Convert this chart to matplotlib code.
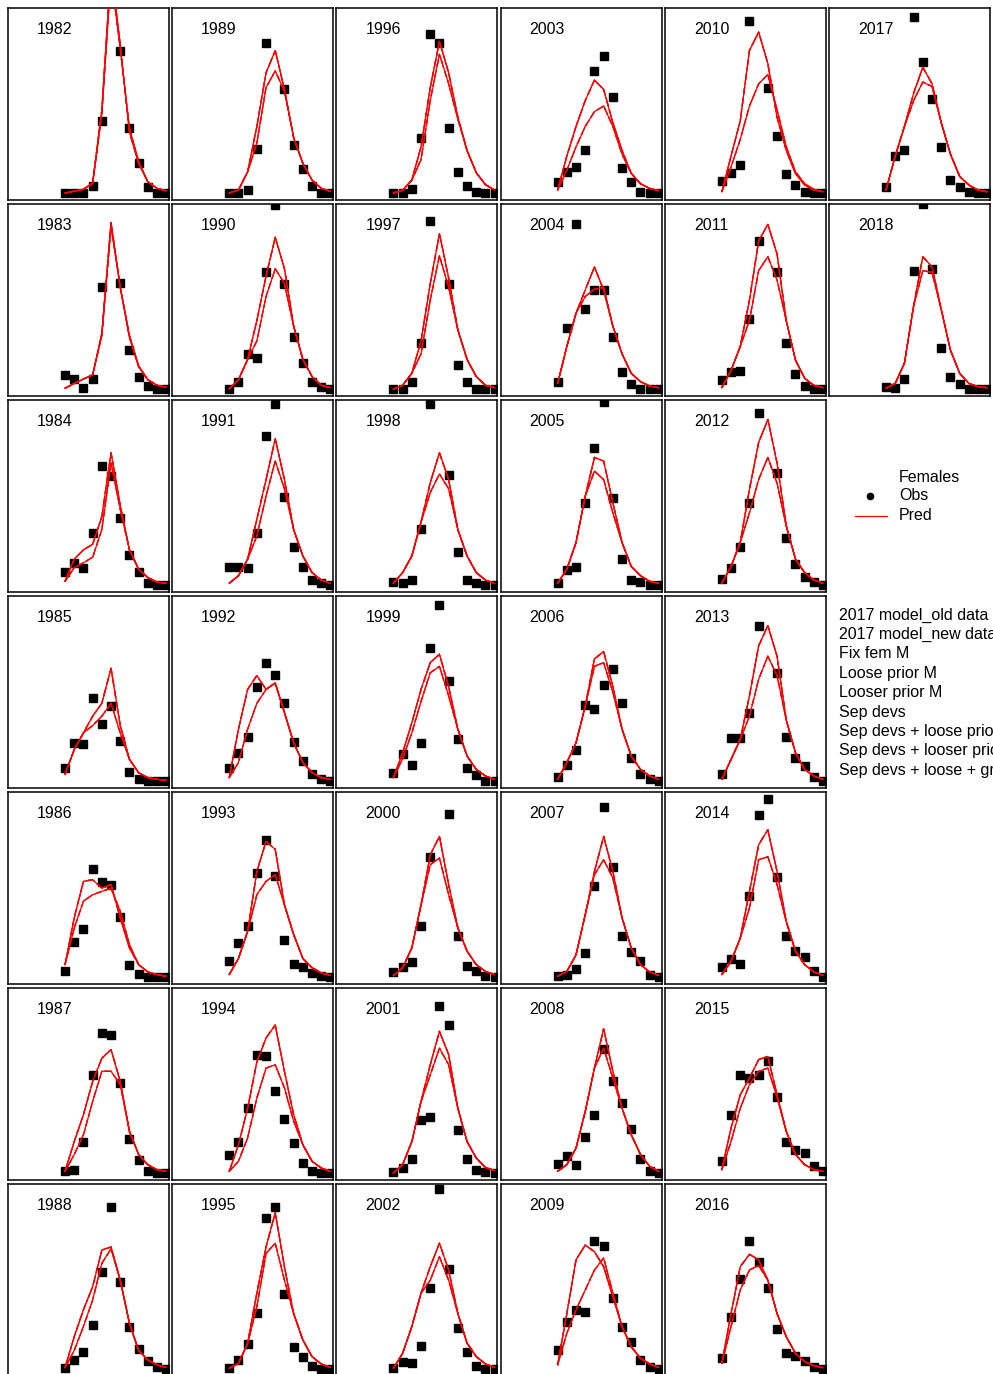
import numpy as np
import matplotlib
matplotlib.use("Agg")
import matplotlib.pyplot as plt
from matplotlib.lines import Line2D

plt.rcParams['font.family'] = ['Liberation Sans', 'DejaVu Sans']

# size bin midpoints
sizes = [27.5, 32.5, 37.5, 42.5, 47.5, 52.5, 57.5, 62.5, 67.5, 72.5, 77.5, 82.5]
years = list(range(1982, 2019))

models = ["2017 model_old data", "2017 model_new data", "Fix fem M",
          "Loose prior M", "Looser prior M", "Sep devs",
          "Sep devs + loose prior M", "Sep devs + looser prior M",
          "Sep devs + loose + growth"]
# which predicted curve each model follows (0 = upper set, 1 = lower set)
model_group = [0, 0, 0, 0, 0, 1, 1, 1, 1]

# observed size composition (females), one row per year
obs = [
    [0.0, 0.0, 0.0, 0.04, 0.39, 1.2, 0.77, 0.35, 0.16, 0.034, 0.0, 0.0],          # 1982
    [0.076, 0.056, 0.007, 0.056, 0.55, 1.1, 0.575, 0.21, 0.067, 0.018, 0.0, 0.0],  # 1983
    [0.072, 0.12, 0.094, 0.283, 0.645, 0.59, 0.364, 0.164, 0.072, 0.009, 0.0, 0.0],
    [0.072, 0.207, 0.2, 0.45, 0.31, 0.405, 0.216, 0.05, 0.013, 0.0, 0.0, 0.0],
    [0.034, 0.19, 0.26, 0.585, 0.513, 0.495, 0.326, 0.067, 0.018, 0.0, 0.0, 0.0],
    [0.013, 0.018, 0.17, 0.53, 0.757, 0.748, 0.488, 0.186, 0.072, 0.013, 0.0, 0.0],
    [0.007, 0.049, 0.09, 0.238, 0.526, 0.877, 0.472, 0.225, 0.106, 0.043, 0.013, 0.0],
    [0.0, 0.0, 0.016, 0.24, 0.81, 1.1, 0.56, 0.26, 0.13, 0.04, 0.0, 0.0],          # 1989
    [0.0, 0.04, 0.19, 0.17, 0.63, 0.995, 0.57, 0.28, 0.14, 0.04, 0.013, 0.0],
    [0.1, 0.1, 0.094, 0.283, 0.805, 0.98, 0.477, 0.207, 0.1, 0.029, 0.009, 0.0],
    [0.072, 0.153, 0.24, 0.51, 0.64, 0.575, 0.423, 0.21, 0.11, 0.04, 0.013, 0.0],
    [0.088, 0.186, 0.277, 0.562, 0.742, 0.544, 0.2, 0.072, 0.054, 0.022, 0.004, 0.0],
    [0.1, 0.17, 0.35, 0.64, 0.63, 0.445, 0.294, 0.162, 0.054, 0.013, 0.0, 0.0],
    [0.004, 0.049, 0.133, 0.305, 0.818, 0.874, 0.405, 0.12, 0.067, 0.018, 0.0, 0.0],
    [0.0, 0.0, 0.02, 0.30, 0.86, 0.81, 0.35, 0.115, 0.04, 0.005, 0.0, 0.0],        # 1996
    [0.0, 0.0, 0.036, 0.25, 0.91, 1.1, 0.57, 0.13, 0.04, 0.0, 0.0, 0.0],
    [0.018, 0.013, 0.029, 0.305, 0.977, 1.1, 0.596, 0.18, 0.029, 0.009, 0.0, 0.0],
    [0.045, 0.148, 0.088, 0.207, 0.72, 0.95, 0.54, 0.225, 0.072, 0.03, 0.0, 0.0],
    [0.025, 0.054, 0.081, 0.274, 0.65, 1.1, 0.88, 0.223, 0.061, 0.034, 0.004, 0.0],
    [0.005, 0.025, 0.077, 0.285, 0.303, 0.903, 0.8, 0.23, 0.077, 0.018, 0.005, 0.0],
    [0.007, 0.04, 0.034, 0.126, 0.44, 0.973, 0.54, 0.223, 0.094, 0.018, 0.0, 0.0],
    [0.06, 0.115, 0.14, 0.23, 0.66, 0.74, 0.52, 0.135, 0.06, 0.005, 0.0, 0.0],      # 2003
    [0.04, 0.33, 0.89, 0.43, 0.535, 0.535, 0.28, 0.09, 0.027, 0.0, 0.0, 0.0],
    [0.013, 0.08, 0.097, 0.445, 0.742, 0.99, 0.472, 0.142, 0.029, 0.018, 0.0, 0.0],
    [0.023, 0.088, 0.166, 0.41, 0.39, 0.52, 0.605, 0.423, 0.126, 0.04, 0.009, 0.0],
    [0.007, 0.013, 0.045, 0.13, 0.494, 0.92, 0.595, 0.223, 0.137, 0.088, 0.013, 0.0],
    [0.05, 0.09, 0.045, 0.193, 0.315, 0.67, 0.495, 0.38, 0.24, 0.076, 0.009, 0.0],
    [0.103, 0.256, 0.32, 0.31, 0.694, 0.667, 0.382, 0.229, 0.144, 0.049, 0.013, 0.0],
    [0.065, 0.11, 0.15, 0.93, 1.1, 0.57, 0.31, 0.105, 0.045, 0.006, 0.0, 0.0],      # 2010
    [0.05, 0.09, 0.097, 0.38, 0.8, 1.1, 0.63, 0.25, 0.08, 0.016, 0.0, 0.0],
    [0.034, 0.09, 0.207, 0.445, 0.928, 1.1, 0.607, 0.256, 0.112, 0.045, 0.018, 0.0],
    [0.04, 0.23, 0.23, 0.37, 0.84, 1.1, 0.585, 0.24, 0.126, 0.08, 0.023, 0.0],
    [0.054, 0.1, 0.072, 0.436, 0.877, 0.964, 0.54, 0.223, 0.139, 0.11, 0.03, 0.0],
    [0.067, 0.315, 0.528, 0.513, 0.528, 0.604, 0.41, 0.166, 0.126, 0.108, 0.036, 0.009],
    [0.061, 0.283, 0.486, 0.694, 0.578, 0.44, 0.218, 0.088, 0.07, 0.045, 0.013, 0.0],
    [0.03, 0.2, 0.23, 0.95, 0.71, 0.51, 0.25, 0.07, 0.03, 0.007, 0.0, 0.0],         # 2017
    [0.013, 0.007, 0.056, 0.64, 1.0, 0.65, 0.22, 0.067, 0.027, 0.0, 0.0, 0.0],
]

# predicted, upper set of runs
pred_hi = [
    [0.0, 0.01, 0.02, 0.055, 0.45, 1.22, 0.80, 0.33, 0.16, 0.06, 0.025, 0.012],
    [0.004, 0.03, 0.054, 0.076, 0.30, 0.90, 0.55, 0.28, 0.12, 0.05, 0.02, 0.01],
    [0.02, 0.14, 0.19, 0.22, 0.37, 0.715, 0.43, 0.19, 0.085, 0.04, 0.016, 0.009],
    [0.036, 0.17, 0.26, 0.35, 0.42, 0.61, 0.30, 0.117, 0.045, 0.018, 0.009, 0.004],
    [0.067, 0.32, 0.517, 0.526, 0.48, 0.50, 0.32, 0.157, 0.067, 0.027, 0.013, 0.004],
    [0.009, 0.17, 0.315, 0.495, 0.62, 0.667, 0.495, 0.225, 0.1, 0.045, 0.018, 0.009],
    [0.007, 0.175, 0.32, 0.445, 0.643, 0.66, 0.48, 0.247, 0.1, 0.049, 0.022, 0.009],
    [0.0, 0.016, 0.115, 0.36, 0.65, 0.77, 0.56, 0.30, 0.16, 0.07, 0.025, 0.01],
    [0.0, 0.05, 0.16, 0.37, 0.61, 0.82, 0.65, 0.34, 0.16, 0.067, 0.02, 0.007],
    [0.01, 0.05, 0.14, 0.355, 0.57, 0.79, 0.57, 0.30, 0.157, 0.067, 0.027, 0.009],
    [0.018, 0.28, 0.495, 0.57, 0.495, 0.53, 0.37, 0.207, 0.1, 0.045, 0.018, 0.009],
    [0.013, 0.1, 0.247, 0.57, 0.733, 0.69, 0.39, 0.23, 0.1, 0.05, 0.022, 0.009],
    [0.009, 0.153, 0.35, 0.6, 0.73, 0.8, 0.55, 0.315, 0.153, 0.063, 0.027, 0.009],
    [0.004, 0.03, 0.139, 0.41, 0.66, 0.845, 0.553, 0.3, 0.157, 0.067, 0.027, 0.009],
    [0.0, 0.015, 0.07, 0.25, 0.57, 0.82, 0.65, 0.41, 0.23, 0.11, 0.045, 0.016],
    [0.0, 0.02, 0.085, 0.26, 0.57, 0.84, 0.60, 0.32, 0.16, 0.067, 0.02, 0.007],
    [0.01, 0.067, 0.157, 0.34, 0.553, 0.715, 0.57, 0.30, 0.157, 0.067, 0.027, 0.009],
    [0.018, 0.153, 0.315, 0.495, 0.64, 0.685, 0.51, 0.28, 0.135, 0.063, 0.027, 0.009],
    [0.007, 0.05, 0.157, 0.39, 0.66, 0.76, 0.50, 0.265, 0.14, 0.067, 0.03, 0.013],
    [0.0, 0.045, 0.17, 0.387, 0.585, 0.766, 0.64, 0.35, 0.17, 0.081, 0.03, 0.013],
    [0.004, 0.085, 0.23, 0.41, 0.553, 0.68, 0.535, 0.3, 0.14, 0.067, 0.027, 0.009],
    [0.016, 0.2, 0.36, 0.5, 0.61, 0.56, 0.38, 0.23, 0.106, 0.05, 0.025, 0.013],
    [0.03, 0.23, 0.41, 0.535, 0.66, 0.535, 0.34, 0.19, 0.085, 0.04, 0.016, 0.007],
    [0.01, 0.085, 0.23, 0.48, 0.69, 0.67, 0.445, 0.23, 0.1, 0.05, 0.02, 0.009],
    [0.009, 0.1, 0.207, 0.405, 0.66, 0.70, 0.51, 0.28, 0.135, 0.063, 0.027, 0.009],
    [0.004, 0.03, 0.12, 0.337, 0.57, 0.76, 0.571, 0.32, 0.157, 0.067, 0.027, 0.009],
    [0.009, 0.045, 0.135, 0.333, 0.567, 0.78, 0.55, 0.35, 0.207, 0.1, 0.036, 0.009],
    [0.022, 0.3, 0.59, 0.67, 0.634, 0.553, 0.39, 0.229, 0.12, 0.058, 0.027, 0.009],
    [0.007, 0.2, 0.39, 0.77, 0.87, 0.70, 0.41, 0.23, 0.106, 0.043, 0.016, 0.007],
    [0.007, 0.1, 0.23, 0.48, 0.8, 0.89, 0.73, 0.37, 0.157, 0.058, 0.02, 0.007],
    [0.01, 0.1, 0.23, 0.517, 0.77, 0.895, 0.66, 0.32, 0.14, 0.067, 0.027, 0.009],
    [0.009, 0.117, 0.225, 0.46, 0.73, 0.84, 0.675, 0.33, 0.153, 0.063, 0.027, 0.009],
    [0.013, 0.085, 0.21, 0.463, 0.715, 0.796, 0.57, 0.3, 0.14, 0.067, 0.027, 0.009],
    [0.018, 0.243, 0.423, 0.513, 0.613, 0.63, 0.423, 0.225, 0.1, 0.045, 0.018, 0.009],
    [0.03, 0.3, 0.553, 0.62, 0.59, 0.48, 0.3, 0.175, 0.085, 0.04, 0.018, 0.007],
    [0.016, 0.2, 0.36, 0.54, 0.68, 0.59, 0.38, 0.21, 0.09, 0.043, 0.016, 0.007],
    [0.004, 0.03, 0.14, 0.45, 0.715, 0.66, 0.43, 0.21, 0.085, 0.03, 0.013, 0.007],
]

# predicted, lower set of runs
pred_lo = [
    [0.0, 0.01, 0.02, 0.05, 0.43, 1.18, 0.78, 0.35, 0.17, 0.06, 0.025, 0.012],
    [0.004, 0.03, 0.054, 0.076, 0.29, 0.88, 0.55, 0.29, 0.125, 0.05, 0.02, 0.01],
    [0.02, 0.094, 0.12, 0.15, 0.30, 0.66, 0.41, 0.19, 0.085, 0.04, 0.016, 0.009],
    [0.036, 0.17, 0.26, 0.30, 0.35, 0.42, 0.26, 0.117, 0.045, 0.018, 0.009, 0.004],
    [0.067, 0.265, 0.41, 0.445, 0.463, 0.48, 0.355, 0.175, 0.067, 0.027, 0.013, 0.004],
    [0.009, 0.1, 0.207, 0.387, 0.55, 0.55, 0.477, 0.225, 0.1, 0.045, 0.018, 0.009],
    [0.007, 0.1, 0.23, 0.373, 0.571, 0.65, 0.48, 0.247, 0.1, 0.049, 0.022, 0.009],
    [0.0, 0.016, 0.115, 0.27, 0.57, 0.66, 0.55, 0.30, 0.16, 0.07, 0.025, 0.01],
    [0.0, 0.05, 0.16, 0.26, 0.50, 0.65, 0.57, 0.34, 0.16, 0.067, 0.02, 0.007],
    [0.01, 0.05, 0.14, 0.265, 0.48, 0.67, 0.52, 0.30, 0.157, 0.067, 0.027, 0.009],
    [0.018, 0.1, 0.28, 0.42, 0.495, 0.53, 0.37, 0.207, 0.1, 0.045, 0.018, 0.009],
    [0.013, 0.1, 0.247, 0.445, 0.517, 0.553, 0.39, 0.23, 0.1, 0.05, 0.022, 0.009],
    [0.009, 0.063, 0.19, 0.405, 0.567, 0.585, 0.46, 0.28, 0.153, 0.063, 0.027, 0.009],
    [0.004, 0.03, 0.139, 0.337, 0.625, 0.68, 0.48, 0.3, 0.157, 0.067, 0.027, 0.009],
    [0.0, 0.015, 0.07, 0.18, 0.50, 0.75, 0.59, 0.40, 0.23, 0.11, 0.045, 0.016],
    [0.0, 0.02, 0.085, 0.19, 0.48, 0.72, 0.55, 0.32, 0.16, 0.067, 0.02, 0.007],
    [0.01, 0.067, 0.157, 0.34, 0.50, 0.60, 0.52, 0.30, 0.157, 0.067, 0.027, 0.009],
    [0.018, 0.12, 0.26, 0.43, 0.585, 0.62, 0.46, 0.28, 0.135, 0.063, 0.027, 0.009],
    [0.007, 0.05, 0.157, 0.39, 0.607, 0.643, 0.445, 0.265, 0.14, 0.067, 0.03, 0.013],
    [0.0, 0.045, 0.17, 0.387, 0.53, 0.675, 0.585, 0.35, 0.17, 0.081, 0.03, 0.013],
    [0.004, 0.085, 0.23, 0.41, 0.48, 0.607, 0.48, 0.3, 0.14, 0.067, 0.027, 0.009],
    [0.016, 0.124, 0.25, 0.36, 0.44, 0.47, 0.36, 0.21, 0.106, 0.05, 0.025, 0.013],
    [0.03, 0.23, 0.41, 0.5, 0.54, 0.55, 0.34, 0.19, 0.085, 0.04, 0.016, 0.007],
    [0.01, 0.085, 0.23, 0.48, 0.616, 0.57, 0.39, 0.23, 0.1, 0.05, 0.02, 0.009],
    [0.009, 0.1, 0.207, 0.405, 0.62, 0.64, 0.48, 0.28, 0.135, 0.063, 0.027, 0.009],
    [0.004, 0.03, 0.12, 0.337, 0.553, 0.634, 0.535, 0.32, 0.157, 0.067, 0.027, 0.009],
    [0.009, 0.045, 0.135, 0.333, 0.567, 0.675, 0.513, 0.35, 0.207, 0.1, 0.036, 0.009],
    [0.022, 0.193, 0.32, 0.427, 0.535, 0.6, 0.41, 0.229, 0.12, 0.058, 0.027, 0.009],
    [0.007, 0.14, 0.29, 0.47, 0.59, 0.64, 0.45, 0.25, 0.115, 0.05, 0.02, 0.007],
    [0.007, 0.1, 0.23, 0.37, 0.64, 0.715, 0.59, 0.37, 0.157, 0.058, 0.02, 0.007],
    [0.01, 0.1, 0.23, 0.39, 0.57, 0.69, 0.55, 0.32, 0.14, 0.067, 0.027, 0.009],
    [0.009, 0.117, 0.225, 0.35, 0.55, 0.675, 0.57, 0.33, 0.153, 0.063, 0.027, 0.009],
    [0.013, 0.085, 0.21, 0.373, 0.634, 0.65, 0.5, 0.3, 0.14, 0.067, 0.027, 0.009],
    [0.018, 0.17, 0.35, 0.477, 0.55, 0.567, 0.41, 0.225, 0.1, 0.045, 0.018, 0.009],
    [0.03, 0.23, 0.427, 0.535, 0.56, 0.48, 0.3, 0.175, 0.085, 0.04, 0.018, 0.007],
    [0.016, 0.2, 0.36, 0.50, 0.60, 0.575, 0.38, 0.21, 0.09, 0.043, 0.016, 0.007],
    [0.004, 0.03, 0.14, 0.45, 0.64, 0.63, 0.43, 0.21, 0.085, 0.03, 0.013, 0.007],
]

# R-style line types 1..6, recycled
ltys = ['-', (0, (4, 4)), (0, (1, 3)), (0, (1, 3, 4, 3)), (0, (7, 3)), (0, (2, 2, 6, 2))]

W, H = 993, 1374
fig = plt.figure(figsize=(W / 100, H / 100), dpi=100)

pw, ph = 161, 192
for k, yr in enumerate(years):
    col, row = k // 7, k % 7
    left = 8 + 164.2 * col
    top = 8 + 196 * row
    ax = fig.add_axes([left / W, 1 - (top + ph) / H, pw / W, ph / H])
    ax.plot(sizes, obs[k], 's', color='black', ms=6.3, mec='black', zorder=2)
    for m in range(len(models)):
        curve = pred_hi[k] if model_group[m] == 0 else pred_lo[k]
        ax.plot(sizes, curve, color='red', lw=0.9, ls=ltys[m % 6], zorder=3)
    ax.set_xlim(sizes[0] - 6.2 * 5, sizes[0] + 11.3 * 5)
    ax.set_ylim(-7 / 185, 1.0)
    ax.set_xticks([])
    ax.set_yticks([])
    for sp in ax.spines.values():
        sp.set_linewidth(1.1)
        sp.set_color('black')
    ax.text(29 / pw, 1 - 26 / ph, str(yr), transform=ax.transAxes,
            fontsize=11.5, va='baseline', ha='left')

# legend area, pixel coordinates
lax = fig.add_axes([0, 0, 1, 1])
lax.set_xlim(0, W)
lax.set_ylim(H, 0)
lax.axis('off')
lax.text(899, 477, "Females", fontsize=11.5, va='center', ha='left')
lax.plot([870], [496], 'o', color='black', ms=4.5)
lax.text(899, 496, "Obs", fontsize=11.5, va='center', ha='left')
lax.plot([855, 887], [516, 516], color='red', lw=0.9)
lax.text(899, 516, "Pred", fontsize=11.5, va='center', ha='left')
for j, name in enumerate(models):
    lax.text(839, 615 + 19.4 * j, name, fontsize=11.5, va='center', ha='left', clip_on=False)

fig.savefig("out.png", dpi=100)
